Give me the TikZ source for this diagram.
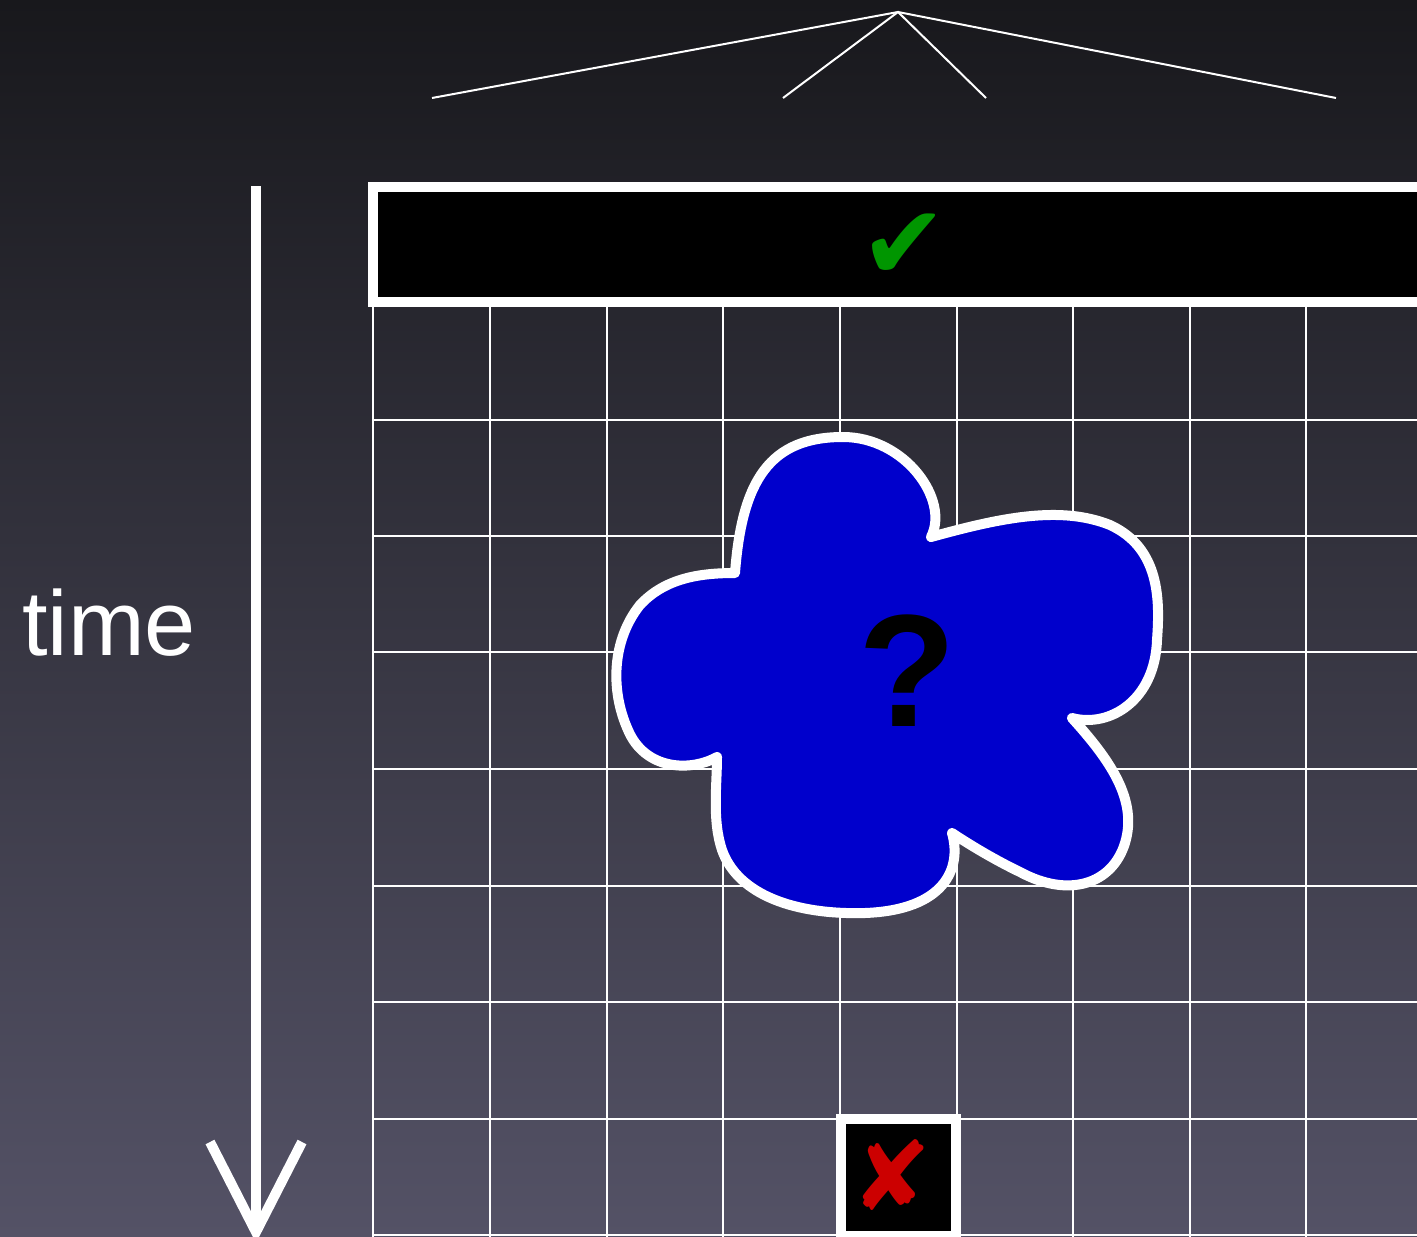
\documentclass[tikz,border=0pt]{standalone}
\usepackage{fontspec}
\setmainfont{Liberation Sans}
\newfontfamily\dejavu{DejaVu Sans}
\definecolor{bgtop}{RGB}{24,24,28}
\definecolor{bgbot}{RGB}{84,82,102}
\definecolor{blobblue}{RGB}{0,0,204}
\definecolor{checkgreen}{RGB}{0,150,0}
\definecolor{crossred}{RGB}{204,0,0}
\tikzset{
  gridline/.style={white, line width=1.8},
  treeline/.style={white, line width=2},
  boxframe/.style={draw=white, fill=black, line width=10},
  timeline/.style={white, line width=10},
  blobshape/.style={draw=white, fill=blobblue, line width=10, line join=round},
}
\begin{document}
\begin{tikzpicture}[x=1pt,y=-1pt]
\useasboundingbox (0,0) rectangle (1417,1237);
\clip (0,0) rectangle (1417,1237);
\shade[top color=bgtop, bottom color=bgbot] (0,0) rectangle (1417,1237);

% tree at the top
\coordinate (apex) at (898,12);
\coordinate (l1) at (432,98);
\coordinate (l2) at (783,98);
\coordinate (l3) at (986,98);
\coordinate (l4) at (1336,98);
\draw[treeline] (l1) -- (apex) -- (l4);
\draw[treeline] (l2) -- (apex) -- (l3);

% grid
\foreach \x in {373,490,607,723,840,957,1073,1190,1306}
  \draw[gridline] (\x,303) -- (\x,1240);
\foreach \y in {420,536,652,769,886,1002,1119,1235}
  \draw[gridline] (373,\y) -- (1420,\y);

% top box
\draw[boxframe] (373,186.5) rectangle (1440,301.5);
\node[inner sep=0, text=checkgreen, font=\dejavu\fontsize{104}{120}\selectfont] (check) at (904,247) {✔};

% blob
\coordinate (nA) at (735,573);
\coordinate (nB) at (931,537);
\coordinate (nC) at (1072,718);
\coordinate (nD) at (952,833);
\coordinate (nE) at (717,757);
\draw[blobshape]
  (nA) .. controls (742,480) and (770,437) .. (843,437)
       .. controls (905,437) and (950,500) .. (nB)
  -- (nB) .. controls (1000,518) and (1060,505) .. (1110,525)
       .. controls (1160,548) and (1160,600) .. (1157,640)
       .. controls (1155,700) and (1110,728) .. (nC)
  -- (nC) .. controls (1110,760) and (1138,800) .. (1125,843)
       .. controls (1112,885) and (1068,898) .. (1020,872)
       .. controls (995,860) and (970,845) .. (nD)
  -- (nD) .. controls (962,868) and (945,910) .. (865,913)
       .. controls (795,915) and (738,895) .. (722,850)
       .. controls (712,820) and (717,785) .. (nE)
  -- (nE) .. controls (690,772) and (645,770) .. (628,730)
       .. controls (610,690) and (612,640) .. (640,605)
       .. controls (665,578) and (700,573) .. (nA)
  -- cycle;
\node[inner sep=0, font=\bfseries\fontsize{160}{180}\selectfont] (question) at (907,671) {?};

% bottom box
\draw[boxframe] (840.5,1119) rectangle (956,1236);
\node[inner sep=0, text=crossred, font=\dejavu\fontsize{96}{110}\selectfont] (cross) at (892,1175) {✘};

% time axis
\coordinate (ttop) at (256,186);
\coordinate (tbot) at (256,1232);
\coordinate (hl) at (210,1142);
\coordinate (hr) at (302,1142);
\draw[timeline] (ttop) -- (tbot);
\draw[timeline, line join=miter] (hl) -- (tbot) -- (hr);
\node[anchor=base west, inner sep=0, text=white, font=\fontsize{92}{110}\selectfont] (time) at (22,655) {time};
\end{tikzpicture}
\end{document}
